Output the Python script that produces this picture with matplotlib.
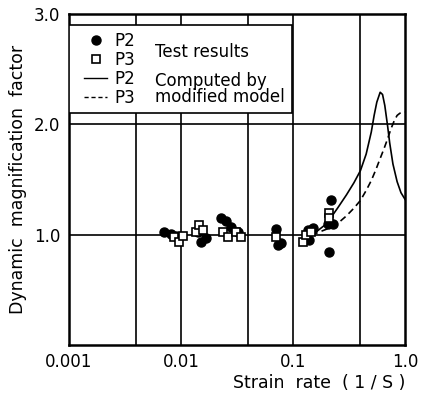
import matplotlib.pyplot as plt
from matplotlib.lines import Line2D
from matplotlib.patches import Rectangle

# test results
p2_x = [0.0071, 0.0081, 0.0090, 0.0142, 0.0150, 0.0167, 0.0228, 0.0252, 0.0280, 0.0320,
        0.0705, 0.0740, 0.0780, 0.136, 0.139, 0.150, 0.205, 0.218, 0.227, 0.210]
p2_y = [1.02, 1.01, 0.99, 1.02, 0.93, 0.97, 1.15, 1.12, 1.07, 1.02,
        1.05, 0.91, 0.92, 1.04, 0.95, 1.06, 1.10, 1.31, 1.10, 0.84]
p3_x = [0.0087, 0.0096, 0.0104, 0.0136, 0.0145, 0.0157, 0.0237, 0.0263, 0.0310, 0.0343,
        0.0705, 0.123, 0.131, 0.145, 0.210, 0.210]
p3_y = [0.98, 0.93, 0.99, 1.02, 1.09, 1.04, 1.02, 0.98, 1.02, 0.98,
        0.98, 0.93, 1.00, 1.02, 1.20, 1.15]

# computed by modified model
c2_x = [0.12, 0.15, 0.2, 0.25, 0.3, 0.35, 0.4, 0.45, 0.5, 0.53, 0.56, 0.6, 0.63,
        0.66, 0.7, 0.73, 0.78, 0.85, 0.92, 1.0]
c2_y = [0.95, 1.0, 1.1, 1.24, 1.36, 1.47, 1.58, 1.73, 1.93, 2.08, 2.2, 2.29, 2.27,
        2.17, 1.98, 1.83, 1.64, 1.48, 1.38, 1.32]
c3_x = [0.12, 0.15, 0.2, 0.25, 0.3, 0.35, 0.4, 0.45, 0.5, 0.55, 0.6, 0.65, 0.7,
        0.75, 0.8, 0.85, 0.9, 1.0]
c3_y = [0.95, 1.0, 1.05, 1.1, 1.17, 1.24, 1.31, 1.4, 1.49, 1.59, 1.69, 1.78, 1.87,
        1.96, 2.03, 2.08, 2.1, 2.11]

grid_x = [0.004, 0.01, 0.04, 0.1, 0.4]
grid_y = [1.0, 2.0]
xticks = [0.001, 0.01, 0.1, 1.0]
xticklabels = ['0.001', '0.01', '0.1', '1.0']
yticks = [1.0, 2.0, 3.0]
yticklabels = ['1.0', '2.0', '3.0']

plt.rcParams['font.family'] = ['DejaVu Sans']
fig = plt.figure(figsize=(4.25, 3.97), dpi=100)
ax = fig.add_axes([0.162, 0.131, 0.791, 0.834])

for gx in grid_x:
    ax.axvline(gx, color='black', lw=1.2, zorder=1)
for gy in grid_y:
    ax.axhline(gy, color='black', lw=1.2, zorder=1)

ax.plot(c2_x, c2_y, color='black', lw=1.2, zorder=3)
ax.plot(c3_x, c3_y, color='black', lw=1.2, ls=(0, (4, 2.5)), zorder=3)
ax.plot(p2_x, p2_y, 'o', color='black', ms=6.5, zorder=4)
ax.plot(p3_x, p3_y, 's', mfc='white', mec='black', mew=1.2, ms=6, zorder=5)

ax.set_xscale('log')
ax.set_xlim(0.001, 1.0)
ax.set_ylim(0, 3.0)
ax.set_xticks(xticks)
ax.set_xticklabels(xticklabels, fontsize=12)
ax.set_yticks(yticks)
ax.set_yticklabels(yticklabels, fontsize=12)
ax.minorticks_off()
ax.tick_params(length=0, pad=6)
for s in ax.spines.values():
    s.set_linewidth(1.8)

ax.set_ylabel('Dynamic  magnification  factor', fontsize=12.5, labelpad=5)
ax.set_xlabel('Strain  rate  ( 1 / S )', fontsize=12.5, loc='right', labelpad=2)

# legend box
ax.add_patch(Rectangle((0, 0.701), 0.664, 0.266, transform=ax.transAxes,
                       facecolor='white', edgecolor='black', lw=1.2, zorder=6))
handles = [Line2D([], [], ls='', marker='o', color='black', ms=6.5),
           Line2D([], [], ls='', marker='s', mfc='white', mec='black', mew=1.2, ms=6),
           Line2D([], [], color='black', lw=1.0),
           Line2D([], [], color='black', lw=1.0, ls=(0, (3, 2)))]
leg = ax.legend(handles, ['P2', 'P3', 'P2', 'P3'], loc='upper left',
                bbox_to_anchor=(0.045, 0.945), frameon=False, fontsize=12,
                borderpad=0, borderaxespad=0, labelspacing=0.05,
                handlelength=1.4, handletextpad=0.4)
leg.set_zorder(7)
ax.text(0.256, 0.885, 'Test results', transform=ax.transAxes, fontsize=12,
        va='center', zorder=8)
ax.text(0.256, 0.772, 'Computed by\nmodified model', transform=ax.transAxes,
        fontsize=12, va='center', linespacing=0.85, zorder=8)

fig.savefig('out.png', dpi=100)
